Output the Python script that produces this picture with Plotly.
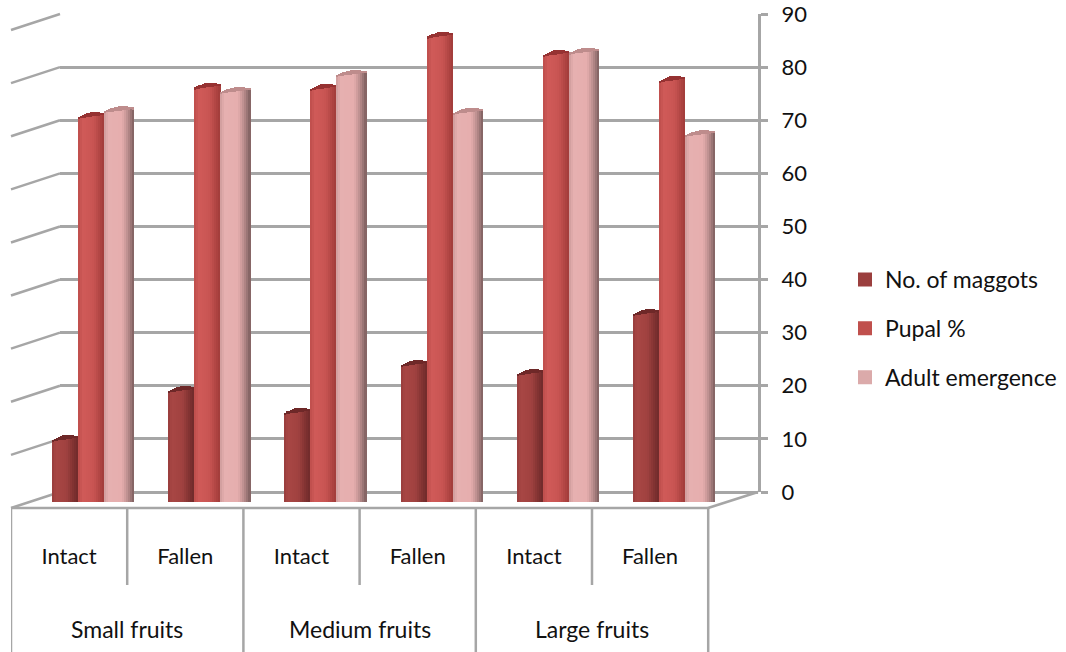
import math
import plotly.graph_objects as go

W, H = 1066, 652
FONT = "Lato"

SUBGROUPS = ["Intact", "Fallen", "Intact", "Fallen", "Intact", "Fallen"]
GROUPS = ["Small fruits", "Medium fruits", "Large fruits"]
MAGGOTS = [11.5, 20.7, 16.6, 25.6, 23.9, 35.2]
PUPAL = [72.3, 77.8, 77.6, 87.4, 84.0, 79.1]
ADULT = [73.4, 77.0, 80.2, 73.1, 84.4, 68.9]
TICKS = list(range(0, 100, 10))


def px(x):
    return x / W


def py(y):
    return 1 - y / H


def mix(stops, t):
    for (t0, c0), (t1, c1) in zip(stops, stops[1:]):
        if t <= t1:
            f = (t - t0) / (t1 - t0) if t1 > t0 else 0
            return "rgb(%d,%d,%d)" % tuple(round(a + (b - a) * f) for a, b in zip(c0, c1))
    return "rgb(%d,%d,%d)" % stops[-1][1]


SERIES = [
    dict(name="No. of maggots", vals=MAGGOTS, left=-17, width=26, legend="#9b3f3e", cap=(110, 40, 40),
         stops=[(0, (150, 60, 60)), (0.15, (168, 70, 68)), (0.55, (160, 66, 64)), (0.85, (125, 48, 48)), (1, (112, 42, 42))]),
    dict(name="Pupal %", vals=PUPAL, left=9, width=26, legend="#c0504d", cap=(150, 50, 50),
         stops=[(0, (190, 78, 76)), (0.2, (208, 90, 88)), (0.6, (200, 84, 82)), (0.85, (175, 68, 66)), (1, (160, 60, 58))]),
    dict(name="Adult emergence", vals=ADULT, left=35, width=30, legend="#dbaaaa", cap=(190, 140, 140),
         stops=[(0, (205, 155, 155)), (0.15, (230, 176, 176)), (0.6, (230, 174, 174)), (0.8, (185, 140, 140)), (1, (125, 95, 95))]),
]

SLICE_PX = 2
UNIT_PX = 116.2
SLOPE = 0.7
CAP = 0.6

fig = go.Figure()

# back wall axis carrying the grid lines and the value ticks
fig.add_trace(go.Scatter(x=[0], y=[0], xaxis="x", yaxis="y", mode="markers", opacity=0,
                         showlegend=False, hoverinfo="skip"))

for s in SERIES:
    n = s["width"] // SLICE_PX
    for i in range(n):
        t = (i + 0.5) / n
        lens = math.sin(math.pi * t)
        xs = [k + (s["left"] + (i + 0.5) * SLICE_PX) / UNIT_PX for k in range(len(s["vals"]))]
        tops = [v + SLOPE * t for v in s["vals"]]
        fig.add_trace(go.Bar(
            x=xs, y=tops, width=(SLICE_PX + 0.4) / UNIT_PX, xaxis="x2", yaxis="y2",
            marker=dict(color=mix(s["stops"], t), line_width=0),
            name=s["name"], legendgroup=s["name"], showlegend=False, hoverinfo="skip",
        ))
        fig.add_trace(go.Bar(
            x=xs, y=[CAP * lens + 0.25] * len(xs), base=[v - 0.1 for v in tops],
            width=(SLICE_PX + 0.4) / UNIT_PX, xaxis="x2", yaxis="y2",
            marker=dict(color="rgb(%d,%d,%d)" % s["cap"], line_width=0),
            showlegend=False, hoverinfo="skip",
        ))
    # legend key, flat-coloured like the reference's
    fig.add_trace(go.Bar(x=[None], y=[None], xaxis="x2", yaxis="y2", name=s["name"],
                         legendgroup=s["name"], marker=dict(color=s["legend"], line=dict(color=s["legend"], width=2)),
                         showlegend=True, hoverinfo="skip"))

GRID = "#a6a6a6"
line = dict(color=GRID, width=2.5)
shapes = []
# left wall slants
for v in TICKS:
    y0 = 492 - v * (478 / 90)
    shapes.append(dict(type="line", xref="paper", yref="paper", x0=px(60), x1=px(11),
                       y0=py(y0), y1=py(y0 + 16), line=line, layer="below"))
# floor front edge and right floor edge
shapes.append(dict(type="line", xref="x2", yref="paper", x0=-0.5, x1=5.5,
                   y0=py(508), y1=py(508), line=line))
shapes.append(dict(type="line", xref="paper", yref="paper", x0=px(708), x1=px(758),
                   y0=py(508), y1=py(492), line=line, layer="below"))
# category table dividers
for b in [-0.5, 1.5, 3.5, 5.5]:
    shapes.append(dict(type="line", xref="x2", yref="paper", x0=b, x1=b, y0=py(508), y1=py(652), line=line))
for b in [0.5, 2.5, 4.5]:
    shapes.append(dict(type="line", xref="x2", yref="paper", x0=b, x1=b, y0=py(508), y1=py(585), line=line))

annotations = [
    dict(text=g, xref="x2", yref="paper", x=0.5 + 2 * i, y=py(629), showarrow=False,
         xanchor="center", yanchor="middle", font=dict(family=FONT, size=23, color="#111111"))
    for i, g in enumerate(GROUPS)
]

fig.update_layout(
    width=W, height=H, margin=dict(l=0, r=0, t=0, b=0, autoexpand=False),
    paper_bgcolor="white", plot_bgcolor="rgba(0,0,0,0)",
    barmode="overlay", bargap=0,
    font=dict(family=FONT, size=20, color="#111111"),
    shapes=shapes, annotations=annotations,
    xaxis=dict(domain=[px(60), px(758)], range=[0, 1], visible=False, anchor="y"),
    yaxis=dict(domain=[py(492), py(14)], range=[0, 90], side="right", anchor="x",
               tickvals=TICKS, showgrid=True, gridcolor=GRID, gridwidth=2.5, zeroline=True,
               zerolinecolor=GRID, zerolinewidth=2.5,
               showline=True, linecolor=GRID, linewidth=3,
               ticks="outside", ticklen=7, tickcolor=GRID, tickwidth=2.5, ticklabelstandoff=9,
               ticklabeloverflow="allow",
               tickfont=dict(family=FONT, size=22, color="#111111")),
    # extends past the last divider so the last shaded column is not cut off
    xaxis2=dict(domain=[px(11), px(11 + 6.5 * UNIT_PX)], range=[-0.5, 6.0], anchor="free", position=py(508),
                tickvals=list(range(6)), ticktext=SUBGROUPS, showgrid=False, zeroline=False,
                showline=False, ticks="", ticklabelstandoff=33,
                tickfont=dict(family=FONT, size=22, color="#111111")),
    yaxis2=dict(domain=[py(502), py(24)], range=[0, 90], visible=False, anchor="x2"),
    legend=dict(x=px(845), y=py(258), xanchor="left", yanchor="top", tracegroupgap=16,
                itemwidth=30, bgcolor="rgba(0,0,0,0)", font=dict(family=FONT, size=23, color="#111111")),
)

fig.write_html("out.html", config=dict(displayModeBar=False),
               post_script="document.body.style.margin='0';document.body.style.overflow='hidden';")
